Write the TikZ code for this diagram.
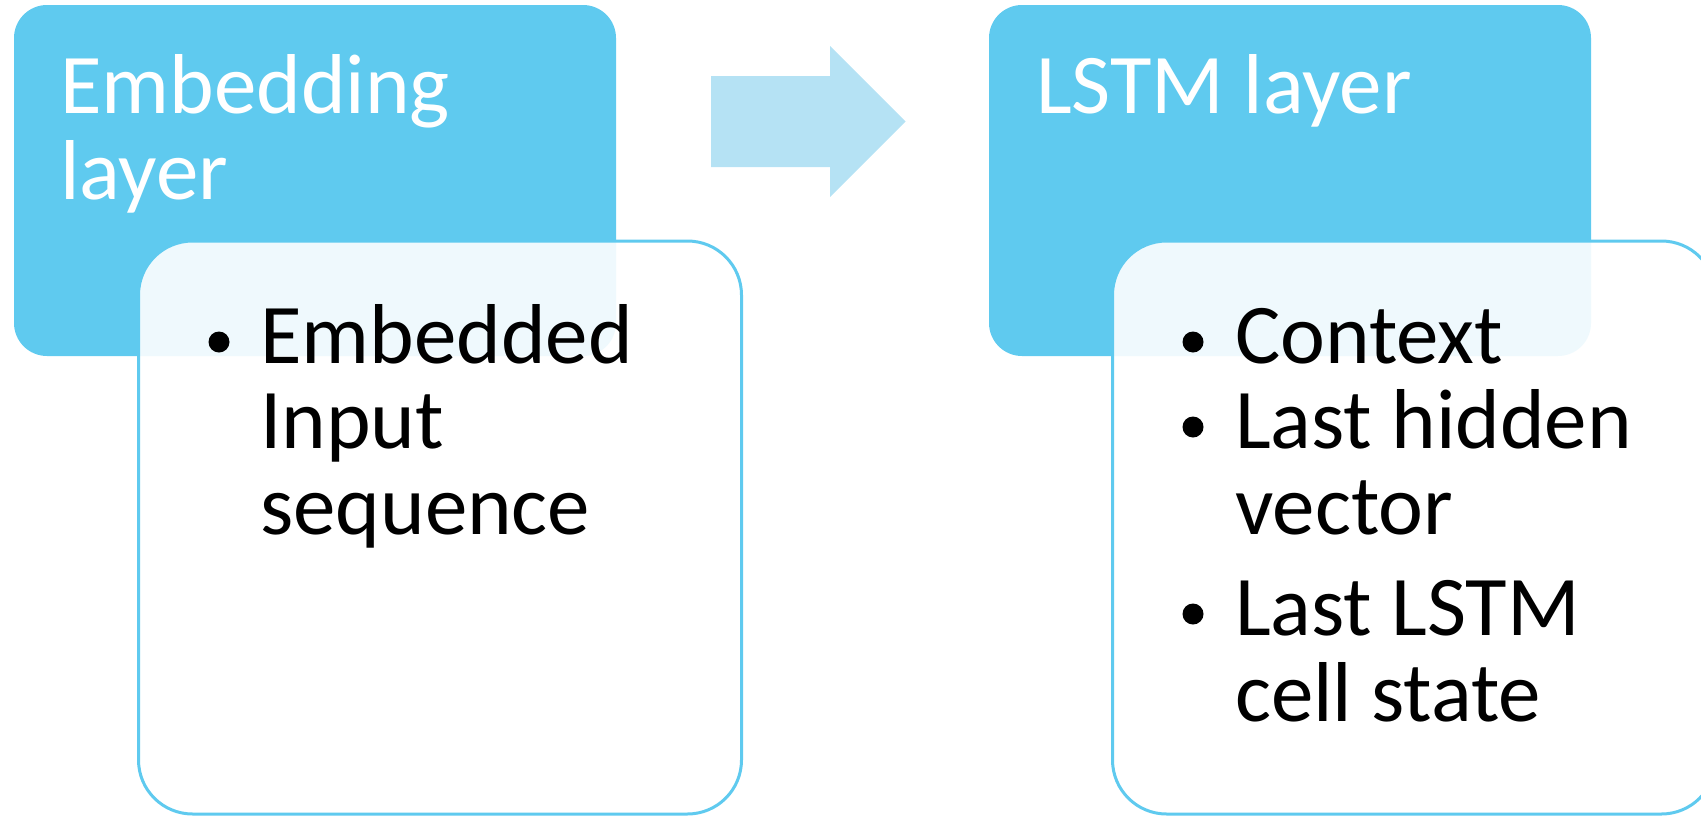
\documentclass[tikz,border=0pt]{standalone}
\usepackage{fontspec}
\setmainfont{Carlito}
\begin{document}
\begin{tikzpicture}[x=1pt,y=-1pt]
\definecolor{hdblue}{HTML}{5FCAEF}
\definecolor{arrblue}{HTML}{B5E2F4}
\tikzset{
  headbox/.style={rectangle, rounded corners=33pt, fill=hdblue, inner sep=0pt,
    minimum width=602pt, minimum height=351pt},
  bodybox/.style={rectangle, rounded corners=54pt, draw=hdblue, line width=3pt,
    fill=white, fill opacity=0.9, inner sep=0pt, minimum width=603pt, minimum height=573pt},
  headtxt/.style={anchor=base west, inner sep=0pt, text=white,
    font=\fontsize{85}{86}\selectfont},
  bodytxt/.style={anchor=base west, inner sep=0pt, text=black,
    font=\fontsize{85}{86}\selectfont},
  dot/.style={circle, fill=black, inner sep=0pt, minimum size=21pt}
}
\useasboundingbox (0,0) rectangle (1701,817);
% header boxes
\node[headbox] (embhead) at (315,180.5) {};
\node[headbox] (lstmhead) at (1290,180.5) {};
% arrow
\fill[arrblue] (711,76) -- (830,76) -- (830,46) -- (905.5,121.5) -- (830,197) -- (830,167) -- (711,167) -- cycle;
% body boxes
\node[bodybox] (embbody) at (440,527.5) {};
\node[bodybox] (lstmbody) at (1414,527.5) {};
% header texts
\node[headtxt] (embtitleA) at (60,113) {Embedding};
\node[headtxt] (embtitleB) at (60,199) {layer};
\node[headtxt] (lstmtitle) at (1036,113) {LSTM layer};
% left bullet
\node[dot] (ld1) at (219,342) {};
\node[bodytxt] (lt1a) at (260,363) {Embedded};
\node[bodytxt] (lt1b) at (260,448) {Input};
\node[bodytxt] (lt1c) at (260,534) {sequence};
% right bullets
\node[dot] (rd1) at (1193,342) {};
\node[bodytxt] (rt1) at (1235,363) {Context};
\node[dot] (rd2) at (1193,427) {};
\node[bodytxt] (rt2a) at (1235,448) {Last hidden};
\node[bodytxt] (rt2b) at (1235,534) {vector};
\node[dot] (rd3) at (1193,614) {};
\node[bodytxt] (rt3a) at (1235,635) {Last LSTM};
\node[bodytxt] (rt3b) at (1235,721) {cell state};
\end{tikzpicture}
\end{document}
